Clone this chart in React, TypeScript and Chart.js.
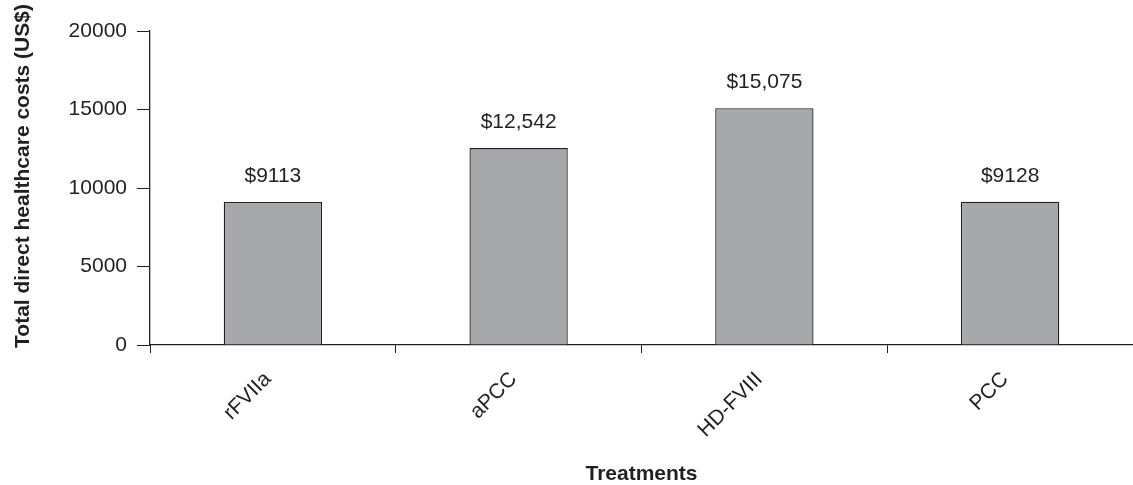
import React, { useEffect, useRef } from "react";
import { Chart, registerables } from "chart.js";

Chart.register(...registerables);

const categories = ["rFVIIa", "aPCC", "HD-FVIII", "PCC"];
const costs = [9113, 12542, 15075, 9128];
const costLabels = ["$9113", "$12,542", "$15,075", "$9128"];
const yTicks = [0, 5000, 10000, 15000, 20000];
const yTitle = "Total direct healthcare costs (US$)";
const xTitle = "Treatments";

const INK = "#231f20";
const FONT = "'Liberation Sans', Arial, Helvetica, sans-serif";

const valueLabelPlugin = {
  id: "valueLabels",
  afterDatasetsDraw(chart: any) {
    const ctx = chart.ctx;
    const meta = chart.getDatasetMeta(0);
    ctx.save();
    ctx.fillStyle = INK;
    ctx.font = `21px ${FONT}`;
    ctx.textAlign = "center";
    ctx.textBaseline = "alphabetic";
    meta.data.forEach((bar: any, i: number) => {
      ctx.fillText(costLabels[i], bar.x, bar.y - 20);
    });
    // y-axis title, placed slightly above the axis centre as in the source figure
    const area = chart.chartArea;
    ctx.font = `bold 21px ${FONT}`;
    ctx.textBaseline = "middle";
    ctx.translate(23, (area.top + area.bottom) / 2 - 12);
    ctx.rotate(-Math.PI / 2);
    ctx.fillText(yTitle, 0, 0);
    ctx.restore();
  },
};

export default function App() {
  const ref = useRef<HTMLCanvasElement | null>(null);
  useEffect(() => {
    if (!ref.current) return;
    const chart = new Chart(ref.current, {
      type: "bar",
      data: {
        labels: categories,
        datasets: [
          {
            data: costs,
            backgroundColor: "#a7a8ab",
            borderColor: INK,
            borderWidth: 1.3,
            barPercentage: 0.4,
            categoryPercentage: 1,
          },
        ],
      },
      plugins: [valueLabelPlugin],
      options: {
        responsive: false,
        animation: false,
        layout: { padding: { top: 31, right: 0, left: 0, bottom: 0 } },
        plugins: { legend: { display: false }, tooltip: { enabled: false } },
        scales: {
          x: {
            offset: true,
            grid: {
              offset: true,
              drawOnChartArea: false,
              drawTicks: true,
              tickLength: 8,
              color: INK,
            },
            border: { color: INK, width: 1.3 },
            ticks: {
              color: INK,
              font: { family: FONT, size: 21 },
              minRotation: 45,
              maxRotation: 45,
              padding: 14,
              labelOffset: -5,
            },
            title: {
              display: true,
              text: xTitle,
              color: INK,
              font: { family: FONT, size: 21, weight: "bold", lineHeight: 1 },
              padding: { top: 0, bottom: 0 },
            },
            afterFit(scale: any) {
              scale.height = 140;
            },
          },
          y: {
            min: 0,
            max: 20000,
            afterBuildTicks(scale: any) {
              scale.ticks = yTicks.map((v) => ({ value: v }));
            },
            grid: {
              drawOnChartArea: false,
              drawTicks: true,
              tickLength: 13,
              color: INK,
            },
            border: { color: INK, width: 1.3 },
            ticks: {
              color: INK,
              font: { family: FONT, size: 21 },
              padding: 10,
              callback: (v: any) => String(v),
            },
            title: { display: false },
            afterFit(scale: any) {
              scale.width = 150;
            },
          },
        },
      },
    } as any);
    return () => chart.destroy();
  }, []);
  return (
    <div style={{ position: "fixed", left: 0, top: 0, width: 1133, height: 485, background: "#fff" }}>
      <canvas ref={ref} width={1133} height={485} style={{ display: "block" }} />
    </div>
  );
}
